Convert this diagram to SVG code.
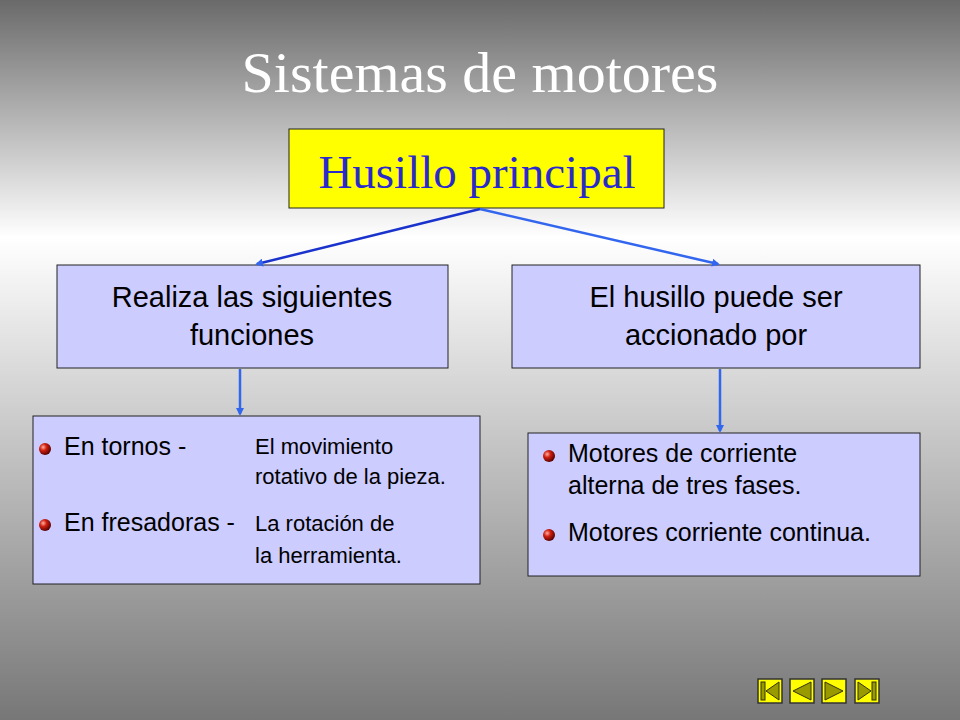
<svg xmlns="http://www.w3.org/2000/svg" width="960" height="720" viewBox="0 0 960 720">
<defs>
<linearGradient id="bg" x1="0" y1="0" x2="0" y2="1">
<stop offset="0" stop-color="#6a6a6a"/><stop offset="0.33" stop-color="#ffffff"/><stop offset="1" stop-color="#777777"/>
</linearGradient>
<radialGradient id="ball" cx="0.35" cy="0.35" r="0.7">
<stop offset="0" stop-color="#ffb0a0"/><stop offset="0.4" stop-color="#d02010"/><stop offset="1" stop-color="#500000"/>
</radialGradient>
<marker id="ah" markerWidth="8" markerHeight="8" refX="6" refY="4" orient="auto" markerUnits="userSpaceOnUse"><path d="M0,0 L8,4 L0,8 z" fill="#3366ee"/></marker>
<style>
.box{fill:#ccccff;stroke:#222;stroke-width:1}
.t{font-family:"Liberation Sans",Arial,sans-serif;fill:#000}
.nav{fill:#ffff00;stroke:#333;stroke-width:1.5}
.tri{fill:#999900;stroke:#333300;stroke-width:1}
</style>
</defs>
<rect width="960" height="720" fill="url(#bg)"/>
<text x="480" y="92" text-anchor="middle" font-family="Liberation Serif,serif" font-size="58" fill="#fff">Sistemas de motores</text>
<g id="n-husillo"><rect x="289" y="129" width="375" height="79" fill="#ffff00" stroke="#222"/>
<text x="477" y="188" text-anchor="middle" font-family="Liberation Serif,serif" font-size="47" fill="#2a2acc">Husillo principal</text></g>
<g id="n-realiza"><rect class="box" x="57" y="265" width="391" height="103"/>
<text class="t" font-size="29" text-anchor="middle"><tspan x="252" y="307">Realiza las siguientes</tspan><tspan x="252" y="345">funciones</tspan></text></g>
<g id="n-accionado"><rect class="box" x="512" y="265" width="408" height="103"/>
<text class="t" font-size="29" text-anchor="middle"><tspan x="716" y="307">El husillo puede ser</tspan><tspan x="716" y="345">accionado por</tspan></text></g>
<g id="n-funciones"><rect class="box" x="33" y="416" width="447" height="168"/>
<circle cx="45" cy="449" r="6" fill="url(#ball)"/><circle cx="45" cy="525" r="6" fill="url(#ball)"/>
<text class="t" font-size="25" x="64" y="455">En tornos -</text>
<text class="t" font-size="22"><tspan x="255" y="454">El movimiento</tspan><tspan x="255" y="484">rotativo de la pieza.</tspan></text>
<text class="t" font-size="25" x="64" y="531">En fresadoras -</text>
<text class="t" font-size="22"><tspan x="255" y="531">La rotación de</tspan><tspan x="255" y="563">la herramienta.</tspan></text></g>
<g id="n-motores"><rect class="box" x="528" y="433" width="392" height="143"/>
<circle cx="549" cy="456" r="6" fill="url(#ball)"/><circle cx="549" cy="535" r="6" fill="url(#ball)"/>
<text class="t" font-size="25"><tspan x="568" y="462">Motores de corriente</tspan><tspan x="568" y="494">alterna de tres fases.</tspan></text>
<text class="t" font-size="25" x="568" y="541">Motores corriente continua.</text></g>
<g id="connectors" stroke="#3366ee" stroke-width="2.5" fill="none">
<line x1="480" y1="209" x2="257" y2="264" stroke="#1a33cc" marker-end="url(#ah)"/>
<line x1="480" y1="209" x2="718" y2="264" marker-end="url(#ah)"/>
<line x1="240" y1="369" x2="240" y2="414" marker-end="url(#ah)"/>
<line x1="720" y1="369" x2="720" y2="431" marker-end="url(#ah)"/>
</g>
<g id="nav">
<rect class="nav" x="758" y="679" width="24" height="24"/><rect x="761" y="682" width="4" height="18" class="tri"/><path class="tri" d="M779,682 L766,691 L779,700 z"/>
<rect class="nav" x="790" y="679" width="24" height="24"/><path class="tri" d="M811,682 L793,691 L811,700 z"/>
<rect class="nav" x="822" y="679" width="24" height="24"/><path class="tri" d="M825,682 L843,691 L825,700 z"/>
<rect class="nav" x="855" y="679" width="24" height="24"/><path class="tri" d="M858,682 L871,691 L858,700 z"/><rect x="872" y="682" width="4" height="18" class="tri"/>
</g>
</svg>
